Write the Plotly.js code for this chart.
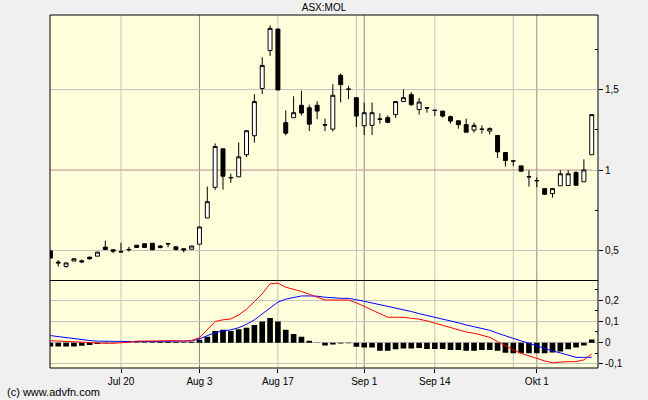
<!DOCTYPE html>
<html>
<head>
<meta charset="utf-8">
<script src="https://cdn.plot.ly/plotly-3.0.1.min.js"></script>
<style>html,body{margin:0;padding:0;background:#f0f0f0;}#chart{width:648px;height:400px;}</style>
</head>
<body>
<div id="chart"></div>
<script>
const dates = [
 '2015-07-07','2015-07-08','2015-07-09','2015-07-10','2015-07-13','2015-07-14','2015-07-15','2015-07-16','2015-07-17','2015-07-20',
 '2015-07-21','2015-07-22','2015-07-23','2015-07-24','2015-07-27','2015-07-28','2015-07-29','2015-07-30','2015-07-31','2015-08-03',
 '2015-08-04','2015-08-05','2015-08-06','2015-08-07','2015-08-10','2015-08-11','2015-08-12','2015-08-13','2015-08-14','2015-08-17',
 '2015-08-18','2015-08-19','2015-08-20','2015-08-21','2015-08-24','2015-08-25','2015-08-26','2015-08-27','2015-08-28','2015-08-31',
 '2015-09-01','2015-09-02','2015-09-03','2015-09-04','2015-09-07','2015-09-08','2015-09-09','2015-09-10','2015-09-11','2015-09-14',
 '2015-09-15','2015-09-16','2015-09-17','2015-09-18','2015-09-21','2015-09-22','2015-09-23','2015-09-24','2015-09-25','2015-09-28',
 '2015-09-29','2015-09-30','2015-10-01','2015-10-02','2015-10-05','2015-10-06','2015-10-07','2015-10-08','2015-10-09','2015-10-12'
];
const openP = [
 0.500,0.430,0.403,0.437,0.438,0.461,0.467,0.523,0.507,0.496,
 0.509,0.535,0.544,0.547,0.530,0.545,0.525,0.513,0.510,0.541,
 0.704,0.894,1.133,0.952,0.959,1.096,1.214,1.507,1.743,1.876,
 1.295,1.326,1.403,1.388,1.403,1.283,1.255,1.589,1.504,1.450,
 1.276,1.278,1.315,1.326,1.345,1.426,1.469,1.376,1.388,1.373,
 1.367,1.332,1.307,1.283,1.249,1.253,1.243,1.216,1.110,1.058,
 1.027,0.958,0.936,0.886,0.855,0.903,0.905,0.986,0.928,1.096
];
const highP = [
 0.500,0.442,0.425,0.451,0.446,0.461,0.492,0.563,0.507,0.550,
 0.525,0.535,0.544,0.547,0.536,0.550,0.527,0.513,0.530,0.648,
 0.899,1.166,1.133,0.978,1.172,1.249,1.471,1.701,1.899,1.876,
 1.371,1.459,1.494,1.407,1.428,1.320,1.533,1.600,1.523,1.450,
 1.420,1.420,1.353,1.340,1.426,1.502,1.484,1.448,1.388,1.373,
 1.367,1.339,1.307,1.320,1.295,1.278,1.266,1.216,1.110,1.058,
 1.027,1.000,0.955,0.886,0.886,1.000,1.000,0.994,1.067,1.345
];
const lowP = [
 0.455,0.403,0.396,0.437,0.424,0.444,0.467,0.508,0.485,0.492,
 0.496,0.521,0.521,0.503,0.515,0.522,0.502,0.490,0.510,0.541,
 0.704,0.878,0.880,0.922,0.959,1.081,1.171,1.473,1.709,1.498,
 1.216,1.326,1.340,1.243,1.317,1.243,1.240,1.421,1.440,1.268,
 1.218,1.218,1.289,1.292,1.324,1.426,1.398,1.345,1.357,1.338,
 1.326,1.289,1.258,1.236,1.233,1.227,1.222,1.075,1.023,1.025,
 0.994,0.899,0.894,0.847,0.830,0.903,0.903,0.903,0.928,1.096
];
const closeP = [
 0.455,0.425,0.425,0.451,0.432,0.451,0.492,0.508,0.497,0.493,
 0.507,0.521,0.521,0.507,0.521,0.543,0.508,0.505,0.530,0.648,
 0.805,1.147,0.963,0.955,1.083,1.245,1.426,1.650,1.880,1.498,
 1.230,1.357,1.355,1.286,1.367,1.280,1.465,1.531,1.502,1.336,
 1.357,1.357,1.318,1.297,1.426,1.450,1.407,1.423,1.386,1.371,
 1.336,1.305,1.283,1.236,1.278,1.255,1.258,1.114,1.060,1.057,
 0.994,0.960,0.935,0.851,0.886,0.978,0.978,0.907,1.002,1.345
];
const macdLine = [
 0.009,0.007,0.005,0.003,0.001,-0.001,-0.003,-0.003,-0.003,-0.002,
 0.002,0.007,0.008,0.008,0.009,0.011,0.009,0.007,0.010,0.023,
 0.063,0.099,0.107,0.111,0.130,0.157,0.192,0.229,0.276,0.279,
 0.260,0.251,0.240,0.227,0.213,0.200,0.200,0.200,0.200,0.187,
 0.170,0.153,0.135,0.119,0.119,0.119,0.114,0.110,0.102,0.091,
 0.080,0.069,0.060,0.050,0.044,0.036,0.025,0.005,-0.015,-0.034,
 -0.050,-0.062,-0.073,-0.086,-0.094,-0.091,-0.089,-0.089,-0.081,-0.053
];
const signalLine = [
 0.033,0.028,0.024,0.019,0.014,0.010,0.007,0.006,0.005,0.005,
 0.005,0.005,0.005,0.005,0.006,0.006,0.006,0.006,0.008,0.018,
 0.031,0.047,0.055,0.060,0.070,0.086,0.107,0.135,0.166,0.190,
 0.204,0.213,0.219,0.219,0.218,0.213,0.210,0.208,0.208,0.202,
 0.194,0.186,0.178,0.172,0.164,0.155,0.146,0.136,0.128,0.119,
 0.111,0.102,0.093,0.083,0.075,0.067,0.058,0.044,0.031,0.019,
 0.008,-0.003,-0.016,-0.028,-0.039,-0.048,-0.059,-0.069,-0.069,-0.069
];
const histBars = [
 -0.018,-0.018,-0.018,-0.018,-0.015,-0.011,-0.006,-0.003,-0.002,-0.001,
 0.001,0.002,0.002,0.002,0.003,0.004,0.003,0.002,0.004,0.013,
 0.028,0.055,0.060,0.055,0.063,0.070,0.083,0.099,0.115,0.099,
 0.060,0.041,0.028,0.009,0.001,-0.014,-0.009,-0.004,-0.003,-0.019,
 -0.023,-0.023,-0.038,-0.038,-0.031,-0.028,-0.028,-0.025,-0.030,-0.030,
 -0.030,-0.034,-0.034,-0.038,-0.038,-0.034,-0.034,-0.038,-0.047,-0.050,
 -0.050,-0.050,-0.050,-0.050,-0.046,-0.042,-0.031,-0.023,-0.014,0.015
];
const tickDates = ['2015-07-20','2015-08-03','2015-08-17','2015-09-01','2015-09-14','2015-10-01'];
const tickLabels = ['Jul 20','Aug 3','Aug 17','Sep 1','Sep 14','Okt 1'];
const lightGridDates = ['2015-07-20','2015-08-17','2015-08-31','2015-09-14','2015-09-28'];
const darkGridDates = ['2015-08-03','2015-09-01','2015-10-01'];
const priceTicks = [0.5, 1, 1.5];
const priceTickText = ['0,5', '1', '1,5'];
const macdTicks = [-0.1, 0, 0.1, 0.2];
const macdTickText = ['-0,1', '0', '0,1', '0,2'];

const font = 'Arial, "Liberation Sans", sans-serif';
const split = 0.2479;

const shapes = [];
lightGridDates.forEach(d => shapes.push({type:'line', xref:'x', yref:'paper', x0:dates.indexOf(d), x1:dates.indexOf(d), y0:0, y1:1, line:{color:'#c4c4c4', width:1}, layer:'below'}));
darkGridDates.forEach(d => shapes.push({type:'line', xref:'x', yref:'paper', x0:dates.indexOf(d), x1:dates.indexOf(d), y0:0, y1:1, line:{color:'#8c8c8c', width:1}, layer:'below'}));
shapes.push({type:'line', xref:'x', yref:'y', x0:-1, x1:dates.length-1, y0:1, y1:1, line:{color:'#e01818', width:1.2}, layer:'below'});
shapes.push({type:'line', xref:'paper', yref:'paper', x0:0, x1:1, y0:split, y1:split, line:{color:'#000', width:1}});
shapes.push({type:'rect', xref:'paper', yref:'paper', x0:0, x1:1, y0:0, y1:1, line:{color:'#000', width:1}});

const traces = [
 {type:'candlestick', x:dates, open:openP, high:highP, low:lowP, close:closeP, xaxis:'x', yaxis:'y',
  whiskerwidth:0,
  increasing:{line:{color:'#000', width:1}, fillcolor:'#ffffff'},
  decreasing:{line:{color:'#000', width:1}, fillcolor:'#000000'},
  hoverinfo:'skip'},
 {type:'bar', x:dates, y:histBars, xaxis:'x', yaxis:'y2', marker:{color:'#000', line:{width:0}}, width:0.72, hoverinfo:'skip'},
 {type:'scatter', mode:'lines', x:dates, y:signalLine, xaxis:'x', yaxis:'y2', line:{color:'#0000ff', width:1}, hoverinfo:'skip'},
 {type:'scatter', mode:'lines', x:dates, y:macdLine, xaxis:'x', yaxis:'y2', line:{color:'#ff0000', width:1}, hoverinfo:'skip'}
];

const layout = {
 width:648, height:400,
 paper_bgcolor:'#f0f0f0', plot_bgcolor:'#ffffdc',
 margin:{l:50, r:50, t:15, b:32, pad:0},
 showlegend:false, hovermode:false,
 boxgap:0.28,
 title:{text:'ASX:MOL', x:0.5, xref:'paper', xanchor:'center', y:0.981, yref:'container', yanchor:'middle', font:{family:font, size:10, color:'#000'}},
 xaxis:{type:'category', range:[-0.05, 69.8], anchor:'y2', tickmode:'array', tickvals:tickDates, ticktext:tickLabels,
   showgrid:false, zeroline:false, showline:false, ticks:'outside', ticklen:4, tickcolor:'#000',
   tickfont:{family:font, size:10, color:'#000'}, rangeslider:{visible:false}, fixedrange:true},
 yaxis:{domain:[split, 1], side:'right', anchor:'x', range:[0.316, 1.963], tickmode:'array', tickvals:priceTicks, ticktext:priceTickText,
   showgrid:true, gridcolor:'#c4c4c4', gridwidth:1, zeroline:false, showline:false, ticks:'outside', ticklen:4, tickcolor:'#000',
   tickfont:{family:font, size:10, color:'#000'},
   minor:{tickvals:[0.75, 1.25, 1.75], ticks:'inside', ticklen:3, tickcolor:'#000', showgrid:false}},
 yaxis2:{domain:[0, split], side:'right', anchor:'x', range:[-0.119, 0.2915], tickmode:'array', tickvals:macdTicks, ticktext:macdTickText,
   showgrid:true, gridcolor:'#c4c4c4', gridwidth:1, zeroline:false, showline:false, ticks:'outside', ticklen:4, tickcolor:'#000',
   tickfont:{family:font, size:10, color:'#000'},
   minor:{tickvals:[-0.05, 0.05, 0.15, 0.25], ticks:'inside', ticklen:3, tickcolor:'#000', showgrid:false}},
 shapes:shapes,
 annotations:[{text:'(c) www.advfn.com', xref:'paper', yref:'paper', x:-50/548, xshift:5, xanchor:'left', y:-24/353, yanchor:'middle', showarrow:false, font:{family:font, size:11, color:'#000'}}]
};

Plotly.newPlot('chart', traces, layout, {staticPlot:true, displayModeBar:false});
</script>
</body>
</html>
